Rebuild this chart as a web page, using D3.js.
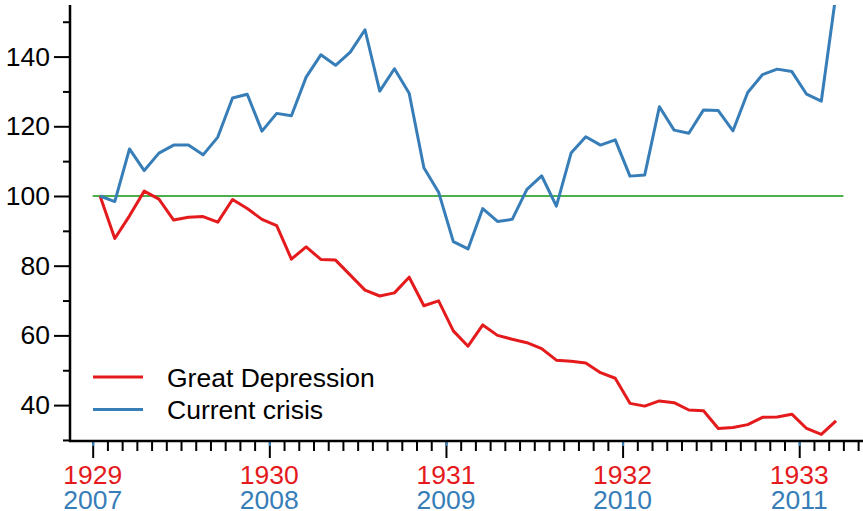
<!DOCTYPE html>
<html>
<head>
<meta charset="utf-8">
<script src="https://cdn.jsdelivr.net/npm/d3@7"></script>
<style>
body{margin:0;background:#fff;}
text{font-family:"Liberation Sans",Arial,sans-serif;}
</style>
</head>
<body>
<script>
var width=863, height=511;

// monthly index, 1929=100 / 2007=100
var greatDepression=[100,87.8,94.3,101.4,99.1,93.1,93.9,94.1,92.5,99,96.4,93.3,91.5,81.9,85.4,81.8,81.6,77.3,73,71.3,72.2,76.7,68.5,69.9,61.3,56.9,63,60,58.9,57.9,56.2,52.9,52.6,52.1,49.3,47.7,40.5,39.7,41.2,40.7,38.6,38.4,33.3,33.6,34.4,36.5,36.6,37.4,33.3,31.6,35.5];
var currentCrisis=[100,98.4,113.5,107.3,112.3,114.6,114.6,111.8,116.9,128.1,129.2,118.6,123.7,123,134.1,140.5,137.5,141.3,147.7,130.1,136.5,129.5,108.1,101.1,86.9,84.8,96.4,92.7,93.3,101.9,105.8,97.1,112.3,117,114.6,116.1,105.7,106,125.6,118.9,118,124.7,124.5,118.7,129.7,134.8,136.4,135.7,129.2,127.2,158];
var yearsOld=["1929","1930","1931","1932","1933"];
var yearsNew=["2007","2008","2009","2010","2011"];
var yTicks=[30,40,50,60,70,80,90,100,110,120,130,140,150];
var yLabels=[40,60,80,100,120,140];
var seriesNames=["Great Depression","Current crisis"];

var red="#e41a1c", blue="#377eb8", green="#4daf4a";
var fs=26.5;

var svg=d3.select("body").append("svg").attr("width",width).attr("height",height);

var x=d3.scaleLinear().domain([0,52]).range([92.7,858.1]);
var y=d3.scaleLinear().domain([29.7,154.8]).range([441,5]);

svg.append("clipPath").attr("id","plotclip").append("rect")
	.attr("x",70).attr("y",5).attr("width",width-70).attr("height",436);

// baseline at 100
svg.append("line").attr("x1",x(0)).attr("x2",x(51)).attr("y1",y(100)).attr("y2",y(100))
	.attr("stroke",green).attr("stroke-width",2);

var line=d3.line().x(function(d,i){return x(i+0.5);}).y(function(d){return y(d);});
var plot=svg.append("g").attr("clip-path","url(#plotclip)");
plot.append("path").datum(greatDepression).attr("d",line).attr("fill","none")
	.attr("stroke",red).attr("stroke-width",3).attr("stroke-linejoin","round");
plot.append("path").datum(currentCrisis).attr("d",line).attr("fill","none")
	.attr("stroke",blue).attr("stroke-width",3).attr("stroke-linejoin","round");

// y axis
var yAxis=svg.append("g").attr("transform","translate(70,0)")
	.call(d3.axisLeft(y).tickValues(yTicks).tickSizeOuter(0)
		.tickFormat(function(d){return yLabels.indexOf(d)>=0 ? d : "";}));
yAxis.select(".domain").remove();
yAxis.selectAll(".tick line").attr("x2",function(d){return yLabels.indexOf(d)>=0 ? -16 : -7;})
	.attr("stroke","#000").attr("stroke-width",2);
yAxis.selectAll(".tick text").attr("x",-20).attr("font-size",fs).attr("fill","#000")
	.attr("font-family","Liberation Sans, Arial, sans-serif");
svg.append("line").attr("x1",70).attr("x2",70).attr("y1",5).attr("y2",442)
	.attr("stroke","#000").attr("stroke-width",2.5);

// x axis (months)
var xAxis=svg.append("g").attr("transform","translate(0,441)")
	.call(d3.axisBottom(x).tickValues(d3.range(0,53)).tickFormat(""));
xAxis.select(".domain").remove();
xAxis.selectAll(".tick line").attr("y2",function(d){return d%12==0 ? 17 : 10;})
	.attr("stroke","#000").attr("stroke-width",2);
xAxis.selectAll(".tick").filter(function(d){return d%12==0;}).append("line")
	.attr("y1",0).attr("y2",5).attr("stroke",blue).attr("stroke-width",2);
svg.append("line").attr("x1",69).attr("x2",width).attr("y1",441).attr("y2",441)
	.attr("stroke","#000").attr("stroke-width",2.5);

yearsOld.forEach(function(d,i){
	svg.append("text").text(d).attr("x",x(i*12)).attr("y",484).attr("text-anchor","middle")
		.attr("font-size",fs).attr("fill",red);
	svg.append("text").text(yearsNew[i]).attr("x",x(i*12)).attr("y",509).attr("text-anchor","middle")
		.attr("font-size",fs).attr("fill",blue);
});

// legend
[red,blue].forEach(function(c,i){
	svg.append("line").attr("x1",93).attr("x2",143).attr("y1",377+i*32.5).attr("y2",377+i*32.5)
		.attr("stroke",c).attr("stroke-width",3);
	svg.append("text").text(seriesNames[i]).attr("x",167).attr("y",386.5+i*32.5)
		.attr("font-size",fs).attr("fill","#000");
});
</script>
</body>
</html>
